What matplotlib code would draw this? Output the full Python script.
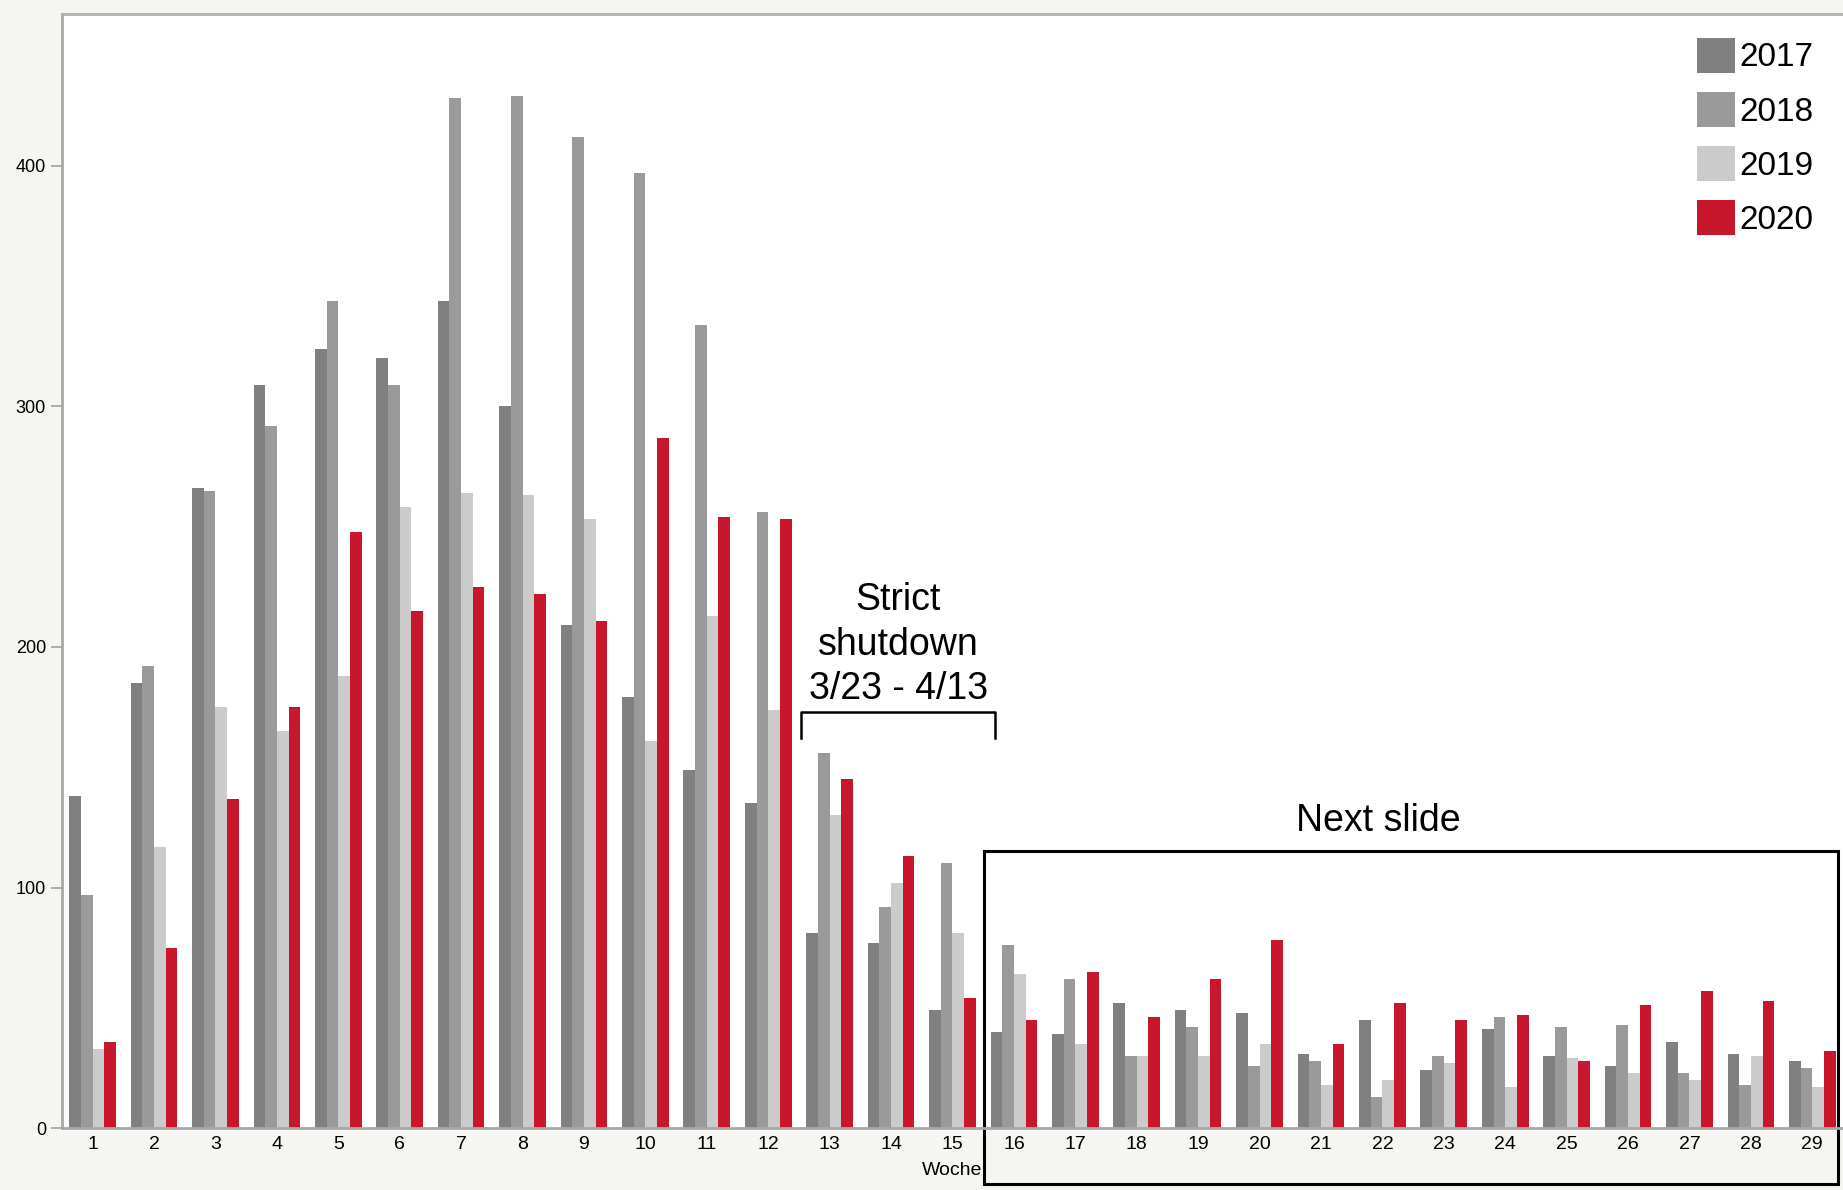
import matplotlib.pyplot as plt
import numpy as np
from matplotlib.patches import Rectangle

plt.rcParams['font.family'] = ['Liberation Sans', 'DejaVu Sans']

# Daten
weeks = list(range(1, 30))
years = ['2017', '2018', '2019', '2020']
v2017 = [138, 185, 266, 309, 324, 320, 344, 300, 209, 179, 149, 135, 81, 77, 49,
         40, 39, 52, 49, 48, 31, 45, 24, 41, 30, 26, 36, 31, 28]
v2018 = [97, 192, 265, 292, 344, 309, 428, 429, 412, 397, 334, 256, 156, 92, 110,
         76, 62, 30, 42, 26, 28, 13, 30, 46, 42, 43, 23, 18, 25]
v2019 = [33, 117, 175, 165, 188, 258, 264, 263, 253, 161, 213, 174, 130, 102, 81,
         64, 35, 30, 30, 35, 18, 20, 27, 17, 29, 23, 20, 30, 17]
v2020 = [36, 75, 137, 175, 248, 215, 225, 222, 211, 287, 254, 253, 145, 113, 54,
         45, 65, 46, 62, 78, 35, 52, 45, 47, 28, 51, 57, 53, 32]
series = [v2017, v2018, v2019, v2020]
colors = ['#808080', '#9a9a9a', '#cbcbcb', '#c8172c']

fig = plt.figure(figsize=(18.43, 11.90), dpi=100, facecolor='#f5f5f1')
ax = fig.add_axes([0.0336, 0.052, 0.9664, 0.936])
ax.set_facecolor('white')

x = np.array(weeks)
w = 0.19
for i, (vals, col, yr) in enumerate(zip(series, colors, years)):
    ax.bar(x + (i - 1.5) * w, vals, width=w, color=col, label=yr)

ax.set_xlim(0.5, 29.5)
ax.set_ylim(0, 463)
ax.set_xticks(weeks)
ax.set_xticklabels([str(k) for k in weeks], fontsize=14)
ax.set_yticks([0, 100, 200, 300, 400])
ax.tick_params(axis='y', labelsize=13, length=8, width=1.2, color='#a0a0a0')
ax.tick_params(axis='x', length=0, pad=6)
ax.set_xlabel('Woche', fontsize=14, labelpad=6)

for s in ['left', 'bottom']:
    ax.spines[s].set_color('#a8a8a8')
    ax.spines[s].set_linewidth(2)
ax.spines['top'].set_color('#b0b0b0')
ax.spines['top'].set_linewidth(2)
ax.spines['right'].set_visible(False)

# Legende
leg = ax.legend(loc='upper right', fontsize=24, frameon=False, handlelength=1.12,
                handleheight=1.25, handletextpad=0.15, labelspacing=0.55,
                borderaxespad=0.0, bbox_to_anchor=(0.991, 0.991))

# Shutdown-Klammer
ax.plot([12.53, 12.53, 15.69, 15.69], [162, 173, 173, 162], color='black', lw=1.8)
ax.text(14.12, 201, 'Strict\nshutdown\n3/23 - 4/13', ha='center', va='center',
        fontsize=27, linespacing=1.3)

# Rahmen "Next slide"
ax.add_patch(Rectangle((15.52, -23.3), 29.42 - 15.52, 115 + 23.3, fill=False,
                       ec='black', lw=2.2, clip_on=False))
ax.text(21.94, 127.5, 'Next slide', ha='center', va='center', fontsize=27)

plt.savefig('out.png', dpi=100, facecolor=fig.get_facecolor())
